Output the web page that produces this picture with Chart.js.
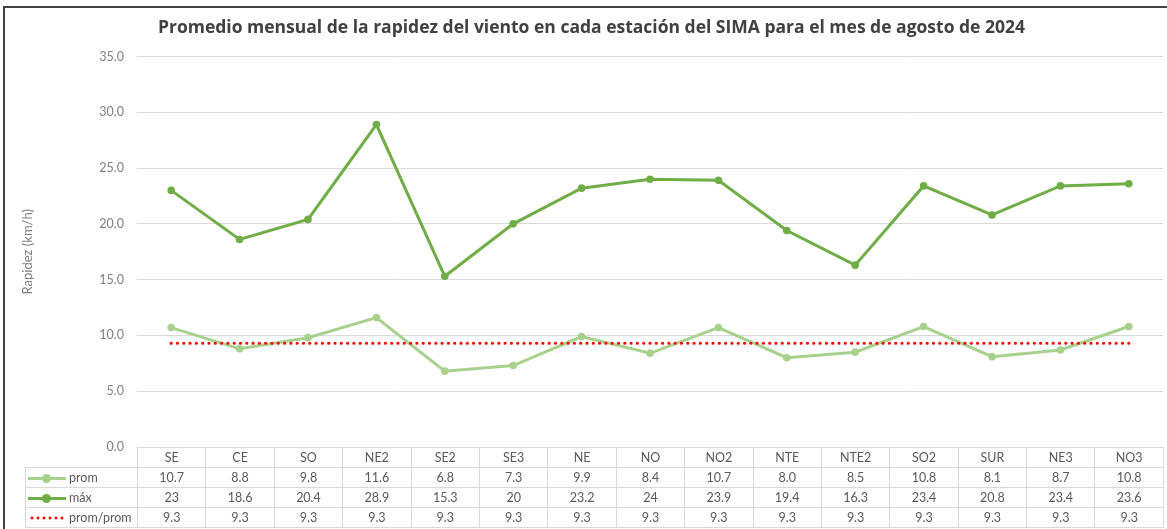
<!DOCTYPE html>
<html lang="es">
<head>
<meta charset="utf-8">
<title>Rapidez del viento SIMA - agosto 2024</title>
<script src="https://cdn.jsdelivr.net/npm/chart.js@4.4.1/dist/chart.umd.min.js"></script>
<style>
    html, body { margin: 0; padding: 0; background: #fff; }
    #wrap { position: relative; width: 1167px; height: 529px; overflow: hidden; }
    #frame {
        position: absolute; left: 3px; top: 6px; right: -10px; bottom: -10px;
        border-left: 2px solid #404040; border-top: 2px solid #404040;
        pointer-events: none;
    }
    #chart { position: absolute; left: 0; top: 0; }
    #dataTable {
        position: absolute; border-collapse: collapse; table-layout: fixed;
        font-family: Lato, 'Open Sans', sans-serif; font-size: 12.5px; color: #595959;
    }
    #dataTable td {
        border: 1px solid #d9d9d9; height: 19px; padding: 0;
        text-align: center; white-space: nowrap; overflow: hidden;
    }
    #dataTable td.key { text-align: left; padding-left: 2px; }
    #dataTable td.blank { border-top: none; border-left: none; }
    .swatch { display: inline-block; position: relative; width: 38px; height: 12px; vertical-align: -2px; margin-right: 3px; }
    .swatch .ln { position: absolute; left: 0; right: 0; top: 5px; height: 3px; }
    .swatch .dot { position: absolute; left: 14px; top: 2px; width: 9px; height: 9px; border-radius: 50%; }
    .swatch .dots {
        position: absolute; left: 1px; width: 36px; top: 4px; height: 4px;
        background: radial-gradient(circle, #ff0000 1.3px, transparent 1.7px) repeat-x;
        background-size: 6px 4px;
    }
</style>
</head>
<body>
<div id="wrap">
    <canvas id="chart" width="1167" height="529"></canvas>
    <table id="dataTable"></table>
    <div id="frame"></div>
</div>
<script>
// ─── Data ────────────────────────────────────────────────────────────────
const stations = ['SE', 'CE', 'SO', 'NE2', 'SE2', 'SE3', 'NE', 'NO', 'NO2', 'NTE', 'NTE2', 'SO2', 'SUR', 'NE3', 'NO3'];
const promValues = [10.7, 8.8, 9.8, 11.6, 6.8, 7.3, 9.9, 8.4, 10.7, 8.0, 8.5, 10.8, 8.1, 8.7, 10.8];
const maxValues = [23, 18.6, 20.4, 28.9, 15.3, 20, 23.2, 24, 23.9, 19.4, 16.3, 23.4, 20.8, 23.4, 23.6];
const promPromValues = [9.3, 9.3, 9.3, 9.3, 9.3, 9.3, 9.3, 9.3, 9.3, 9.3, 9.3, 9.3, 9.3, 9.3, 9.3];
const yMin = 0;
const yMax = 35;
const yStep = 5;

const COLORS = {
    prom: '#a9d18e',
    max: '#70ad47',
    promProm: '#ff0000',
    grid: '#d9d9d9',
    text: '#595959',
    muted: '#808080',
    title: '#404040',
};

// ─── Chart ───────────────────────────────────────────────────────────────
const chart = new Chart(document.getElementById('chart'), {
    type: 'line',
    data: {
        labels: stations,
        datasets: [
            {
                label: 'prom/prom',
                data: promPromValues,
                borderColor: COLORS.promProm,
                borderWidth: 3.2,
                borderDash: [0, 6.3],
                borderCapStyle: 'round',
                pointRadius: 0,
                tension: 0,
                order: 0,
            },
            {
                label: 'máx',
                data: maxValues,
                borderColor: COLORS.max,
                backgroundColor: COLORS.max,
                borderWidth: 3,
                pointRadius: 3.8,
                pointBorderWidth: 0,
                tension: 0,
                order: 1,
            },
            {
                label: 'prom',
                data: promValues,
                borderColor: COLORS.prom,
                backgroundColor: COLORS.prom,
                borderWidth: 3,
                pointRadius: 3.8,
                pointBorderWidth: 0,
                tension: 0,
                order: 2,
            },
        ]
    },
    options: {
        responsive: false,
        animation: false,
        layout: { padding: { left: 20, right: 4, top: 0, bottom: 82 } },
        plugins: {
            legend: { display: false },
            tooltip: { enabled: false },
            title: {
                display: true,
                text: 'Promedio mensual de la rapidez del viento en cada estación del SIMA para el mes de agosto de 2024',
                color: COLORS.title,
                font: { family: "'Open Sans', sans-serif", size: 17.5, weight: 'bold' },
                padding: { top: 18, bottom: 17.5 },
            }
        },
        scales: {
            x: {
                display: false,
                offset: true,
            },
            y: {
                min: yMin,
                max: yMax,
                ticks: {
                    stepSize: yStep,
                    padding: 13,
                    color: COLORS.muted,
                    font: { family: "Lato, sans-serif", size: 12.5 },
                    callback: (v) => Number(v).toFixed(1),
                },
                grid: { color: COLORS.grid, drawTicks: false, lineWidth: 1 },
                border: { display: false },
                title: {
                    display: true,
                    text: 'Rapidez (km/h)',
                    color: COLORS.muted,
                    font: { family: "Lato, sans-serif", size: 13 },
                    padding: { top: 0, bottom: 0 },
                },
                afterFit: (scale) => { scale.width = 117; },
            }
        }
    }
});

// ─── Data table under the plot ───────────────────────────────────────────
const tableRows = [
    { name: 'prom', values: promValues, fmt: (v) => v.toFixed(1), key: `<span class="ln" style="background:${COLORS.prom}"></span><span class="dot" style="background:${COLORS.prom}"></span>` },
    { name: 'máx', values: maxValues, fmt: (v) => String(v), key: `<span class="ln" style="background:${COLORS.max}"></span><span class="dot" style="background:${COLORS.max}"></span>` },
    { name: 'prom/prom', values: promPromValues, fmt: (v) => v.toFixed(1), key: `<span class="dots"></span>` },
];

function buildTable() {
    const area = chart.chartArea;
    const tableLeft = 25;
    const colW = (area.right - area.left) / stations.length;
    const table = document.getElementById('dataTable');
    table.style.left = tableLeft + 'px';
    table.style.top = Math.round(area.bottom) + 'px';

    let html = '<colgroup><col style="width:' + (area.left - tableLeft) + 'px">';
    stations.forEach(() => { html += '<col style="width:' + colW + 'px">'; });
    html += '</colgroup>';

    html += '<tr><td class="blank"></td>';
    stations.forEach((s) => { html += '<td>' + s + '</td>'; });
    html += '</tr>';

    tableRows.forEach((row) => {
        html += '<tr><td class="key"><span class="swatch">' + row.key + '</span>' + row.name + '</td>';
        row.values.forEach((v) => { html += '<td>' + row.fmt(v) + '</td>'; });
        html += '</tr>';
    });
    table.innerHTML = html;
}

buildTable();
</script>
</body>
</html>
